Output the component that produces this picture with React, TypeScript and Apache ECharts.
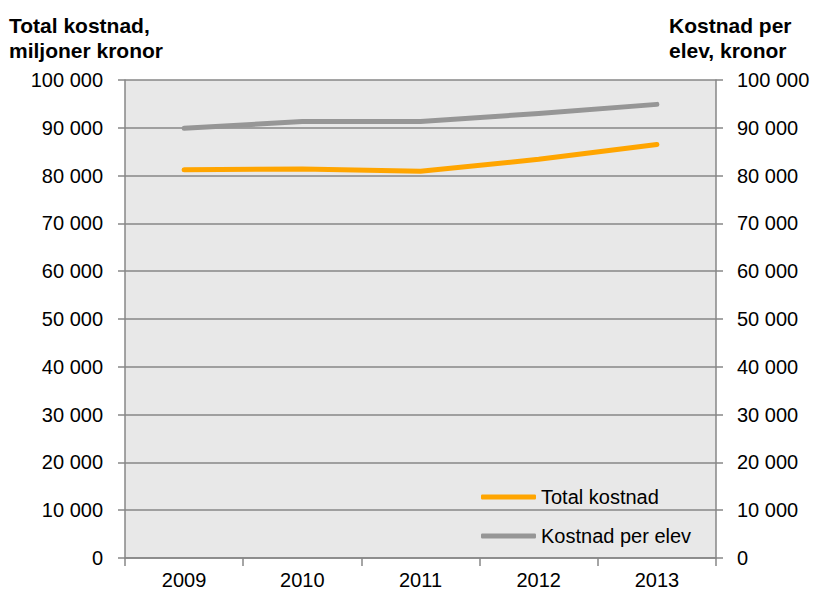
import React, { useEffect, useRef } from "react";
import * as echarts from "echarts";

const years = ["2009", "2010", "2011", "2012", "2013"];
const totalKostnad = [81200, 81400, 80900, 83400, 86500];
const kostnadPerElev = [89900, 91300, 91300, 93000, 94900];
const seriesNames = ["Total kostnad", "Kostnad per elev"];
const leftTitle = "Total kostnad,\nmiljoner kronor";
const rightTitle = "Kostnad per\nelev, kronor";

const FONT = '"Liberation Sans", Arial, sans-serif';
const AXIS_COLOR = "#878787";

const fmt = (v: number) => String(v).replace(/\B(?=(\d{3})+(?!\d))/g, " ");

export default function App() {
  const ref = useRef<HTMLDivElement>(null);
  useEffect(() => {
    if (!ref.current) return;
    const chart = echarts.init(ref.current, null, { renderer: "svg" });
    const yAxisCommon = {
      type: "value" as const,
      min: 0,
      max: 100000,
      interval: 10000,
      axisLine: { show: true, lineStyle: { color: AXIS_COLOR, width: 1.5 } },
      axisTick: { show: true, length: 7, inside: false, lineStyle: { color: AXIS_COLOR, width: 1.5 } },
    };
    chart.setOption({
      animation: false,
      backgroundColor: "#ffffff",
      textStyle: { fontFamily: FONT },
      grid: {
        left: 125,
        right: 98,
        top: 80,
        bottom: 34,
        show: true,
        backgroundColor: "#e8e8e8",
        borderWidth: 0,
      },
      graphic: [
        {
          type: "text",
          left: 9,
          top: 13,
          style: {
            text: leftTitle,
            font: `bold 21px ${FONT}`,
            fill: "#000",
            lineHeight: 25,
          },
        },
        {
          type: "text",
          left: 669,
          top: 13,
          style: {
            text: rightTitle,
            font: `bold 21px ${FONT}`,
            fill: "#000",
            lineHeight: 25,
          },
        },
      ],
      legend: {
        orient: "vertical",
        left: 481,
        top: 487,
        itemWidth: 55,
        itemHeight: 5,
        itemGap: 19,
        icon: "roundRect",
        padding: 0,
        textStyle: { color: "#000", fontSize: 20, fontFamily: FONT },
        data: seriesNames,
      },
      xAxis: {
        type: "category",
        data: years,
        boundaryGap: true,
        axisLine: { show: true, lineStyle: { color: AXIS_COLOR, width: 1.5 } },
        axisTick: { show: true, length: 8, interval: 0, lineStyle: { color: AXIS_COLOR, width: 1.5 } },
        axisLabel: { color: "#000", fontSize: 20, fontFamily: FONT, margin: 12, interval: 0 },
        splitLine: { show: false },
      },
      yAxis: [
        {
          ...yAxisCommon,
          position: "left",
          axisLabel: { formatter: fmt, color: "#000", fontSize: 20, fontFamily: FONT, margin: 22 },
          splitLine: { show: true, lineStyle: { color: AXIS_COLOR, width: 1.5 } },
        },
        {
          ...yAxisCommon,
          position: "right",
          axisLabel: { formatter: fmt, color: "#000", fontSize: 20, fontFamily: FONT, margin: 21 },
          splitLine: { show: false },
        },
      ],
      series: [
        {
          name: seriesNames[0],
          type: "line",
          yAxisIndex: 0,
          data: totalKostnad,
          symbol: "none",
          color: "#FFA500",
          lineStyle: { width: 5, color: "#FFA500", cap: "round", join: "round" },
        },
        {
          name: seriesNames[1],
          type: "line",
          yAxisIndex: 1,
          data: kostnadPerElev,
          symbol: "none",
          color: "#969696",
          lineStyle: { width: 5, color: "#969696", cap: "round", join: "round" },
        },
      ],
    });
    return () => chart.dispose();
  }, []);
  return (
    <div
      ref={ref}
      style={{ position: "fixed", left: 0, top: 0, width: 814, height: 592 }}
    />
  );
}
